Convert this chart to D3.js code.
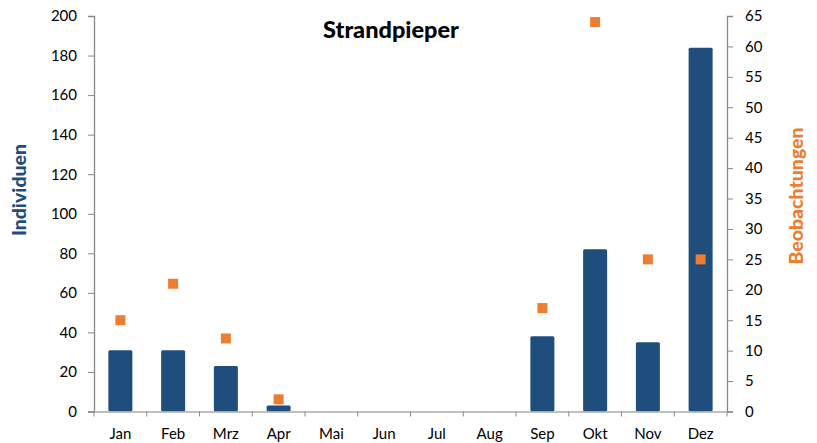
<!DOCTYPE html>
<html>
<head>
<meta charset="utf-8">
<script src="https://cdn.jsdelivr.net/npm/d3@7"></script>
<style>
  body { margin: 0; background: #fff; }
  text { font-family: Lato, "Open Sans", sans-serif; }
</style>
</head>
<body>
<div class="chart"></div>
<script>
// data
let months = ["Jan", "Feb", "Mrz", "Apr", "Mai", "Jun", "Jul", "Aug", "Sep", "Okt", "Nov", "Dez"];
let individuen = [31, 31, 23, 3, 0, 0, 0, 0, 38, 82, 35, 184];
let beobachtungen = [15, 21, 12, 2, null, null, null, null, 17, 64, 25, 25];
let leftTicks = [0, 20, 40, 60, 80, 100, 120, 140, 160, 180, 200];
let rightTicks = [0, 5, 10, 15, 20, 25, 30, 35, 40, 45, 50, 55, 60, 65];

let svgWidth = 817;
let svgHeight = 443;

let margin = { top: 16, right: 90, bottom: 32, left: 94 };
let chartWidth = 727 - margin.left;
let chartHeight = 411.5 - margin.top;

let svg = d3.select(".chart")
  .append("svg")
  .attr("width", svgWidth)
  .attr("height", svgHeight);

let chart = svg.append("g")
  .attr("transform", `translate(${margin.left}, ${margin.top})`);

let x = d3.scaleBand().domain(months).range([0, chartWidth]).paddingInner(0.545).paddingOuter(0.2725);
let xBand = d3.scaleBand().domain(months).range([0, chartWidth]);
let yLeft = d3.scaleLinear().domain([0, 200]).range([chartHeight, 0]);
let yRight = d3.scaleLinear().domain([0, 65]).range([chartHeight, 0]);

// bars
chart.selectAll("rect.bar")
  .data(individuen)
  .enter().append("rect")
    .attr("class", "bar")
    .attr("x", (d, i) => x(months[i]))
    .attr("width", x.bandwidth())
    .attr("y", d => yLeft(d))
    .attr("height", d => chartHeight - yLeft(d))
    .attr("fill", "#1F4E7D")
    .attr("rx", 1.5);

// markers
let sq = 10;
chart.selectAll("rect.obs")
  .data(beobachtungen.map((v, i) => ({ m: months[i], v: v })).filter(d => d.v !== null))
  .enter().append("rect")
    .attr("class", "obs")
    .attr("x", d => xBand(d.m) + xBand.bandwidth() / 2 - sq / 2)
    .attr("y", d => yRight(d.v) - sq / 2)
    .attr("width", sq)
    .attr("height", sq)
    .attr("fill", "#ED7D31");

// axes
let leftAxis = d3.axisLeft(yLeft).tickValues(leftTicks).tickSize(6).tickPadding(11);
let rightAxis = d3.axisRight(yRight).tickValues(rightTicks).tickSize(6).tickPadding(12);
let bottomAxis = d3.axisBottom(xBand).tickSize(0).tickPadding(17);

let gl = chart.append("g").call(leftAxis);
let gr = chart.append("g").attr("transform", `translate(${chartWidth}, 0)`).call(rightAxis);
let gb = chart.append("g").attr("transform", `translate(0, ${chartHeight})`).call(bottomAxis);

// category boundary ticks
gb.selectAll("line.sep")
  .data(d3.range(months.length + 1))
  .enter().append("line")
    .attr("class", "sep")
    .attr("x1", i => i * xBand.step())
    .attr("x2", i => i * xBand.step())
    .attr("y1", 0)
    .attr("y2", 5)
    .attr("stroke", "#888");

[gl, gr, gb].forEach(g => {
  g.select(".domain").attr("stroke", "#888").attr("stroke-width", 1.3);
  g.selectAll(".tick line").attr("stroke", "#888");
  g.selectAll("text").attr("fill", "#000").style("font-size", "15px").style("font-family", "Lato, sans-serif");
});
gb.select(".domain").attr("stroke", "#aaa");

// titles
svg.append("text")
  .attr("x", 391)
  .attr("y", 38)
  .attr("text-anchor", "middle")
  .style("font-size", "23.5px")
  .style("font-weight", "900")
  .attr("fill", "#000")
  .text("Strandpieper");

svg.append("text")
  .attr("transform", "translate(26, 190) rotate(-90)")
  .attr("text-anchor", "middle")
  .style("font-size", "19.5px")
  .style("font-weight", "900")
  .attr("fill", "#1F4E7D")
  .text("Individuen");

svg.append("text")
  .attr("transform", "translate(803, 196) rotate(-90)")
  .attr("text-anchor", "middle")
  .style("font-size", "19.5px")
  .style("font-weight", "900")
  .attr("fill", "#ED7D31")
  .text("Beobachtungen");
</script>
</body>
</html>
